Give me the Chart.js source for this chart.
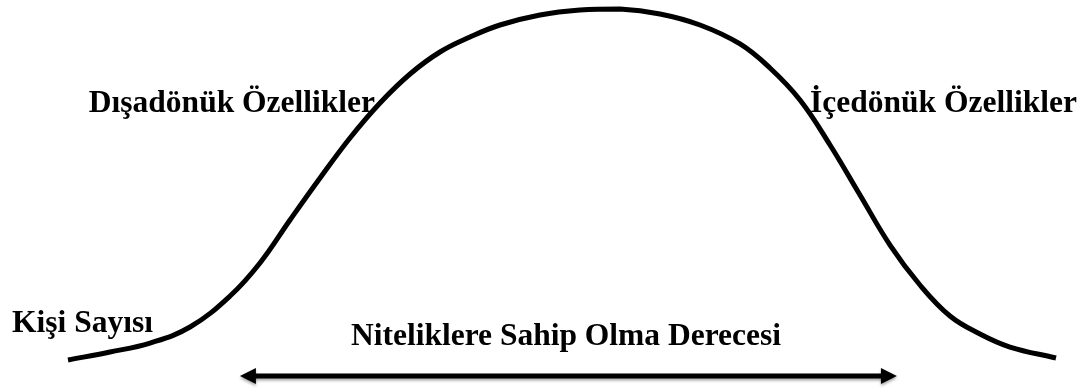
<!DOCTYPE html>
<html>
<head>
<meta charset="utf-8">
<script src="https://cdn.jsdelivr.net/npm/chart.js@4/dist/chart.umd.min.js"></script>
<style>
  html, body { margin: 0; padding: 0; background: #fff; }
  #wrap { position: relative; width: 1089px; height: 392px; }
  canvas { display: block; }
</style>
</head>
<body>
<div id="wrap"><canvas id="curve" width="1089" height="392"></canvas></div>
<script>
// degree of having the traits (0..100) vs. number of people (0..100)
const degree = [0, 4.25, 8.30, 12.35, 16.40, 19.43, 22.47, 25.51, 28.54, 31.58, 34.62, 37.65, 40.69,
                43.72, 47.77, 51.82, 55.87, 59.92, 63.97, 68.02, 71.05, 74.09, 77.13, 80.16, 83.20,
                86.23, 89.27, 92.31, 95.34, 100];
const people = [0, 2.28, 4.84, 9.40, 18.23, 27.64, 39.89, 51.85, 63.25, 73.22, 81.48, 87.75, 92.02,
                95.44, 98.29, 99.72, 100, 98.58, 95.44, 90.03, 83.19, 74.07, 61.25, 47.01, 32.76,
                21.37, 12.54, 7.41, 3.70, 0.57];

const yAxisLabel = "Kişi Sayısı";
const xAxisLabel = "Niteliklere Sahip Olma Derecesi";
const leftLabel = "Dışadönük Özellikler";
const rightLabel = "İçedönük Özellikler";

const font = "bold 31.5px 'Liberation Serif', 'Times New Roman', serif";

const labelsPlugin = {
    id: 'labels',
    afterDraw(chart) {
        const ctx = chart.ctx;
        const xs = chart.scales.x;
        ctx.save();
        ctx.fillStyle = '#000';
        ctx.font = font;
        ctx.textBaseline = 'alphabetic';

        ctx.textAlign = 'right';
        ctx.fillText(leftLabel, 375, 112);
        ctx.textAlign = 'left';
        ctx.fillText(rightLabel, 810, 112);
        ctx.fillText(yAxisLabel, 12, 332);
        ctx.textAlign = 'center';
        ctx.fillText(xAxisLabel, 566, 345);

        // double headed arrow under the curve
        const x0 = xs.getPixelForValue(17.4);
        const x1 = xs.getPixelForValue(83.9);
        const y = 376;
        const head = 16, half = 8;
        ctx.shadowColor = 'rgba(0,0,0,0.35)';
        ctx.shadowBlur = 3;
        ctx.shadowOffsetY = 2;
        ctx.strokeStyle = '#000';
        ctx.lineWidth = 5;
        ctx.beginPath();
        ctx.moveTo(x0 + head - 2, y);
        ctx.lineTo(x1 - head + 2, y);
        ctx.stroke();
        ctx.beginPath();
        ctx.moveTo(x0, y);
        ctx.lineTo(x0 + head, y - half);
        ctx.lineTo(x0 + head, y + half);
        ctx.closePath();
        ctx.moveTo(x1, y);
        ctx.lineTo(x1 - head, y - half);
        ctx.lineTo(x1 - head, y + half);
        ctx.closePath();
        ctx.fillStyle = '#000';
        ctx.fill();
        ctx.restore();
    }
};

new Chart(document.getElementById('curve'), {
    type: 'line',
    data: {
        datasets: [{
            data: degree.map((d, i) => ({ x: d, y: people[i] })),
            borderColor: '#000',
            borderWidth: 5,
            pointRadius: 0,
            fill: false,
            tension: 0.4,
            clip: false
        }]
    },
    options: {
        responsive: false,
        animation: false,
        devicePixelRatio: 1,
        layout: { padding: { left: 68, right: 33, top: 9, bottom: 32 } },
        plugins: { legend: { display: false }, tooltip: { enabled: false } },
        scales: {
            x: { type: 'linear', min: 0, max: 100, display: false },
            y: { min: 0, max: 100, display: false }
        }
    },
    plugins: [labelsPlugin]
});
</script>
</body>
</html>
